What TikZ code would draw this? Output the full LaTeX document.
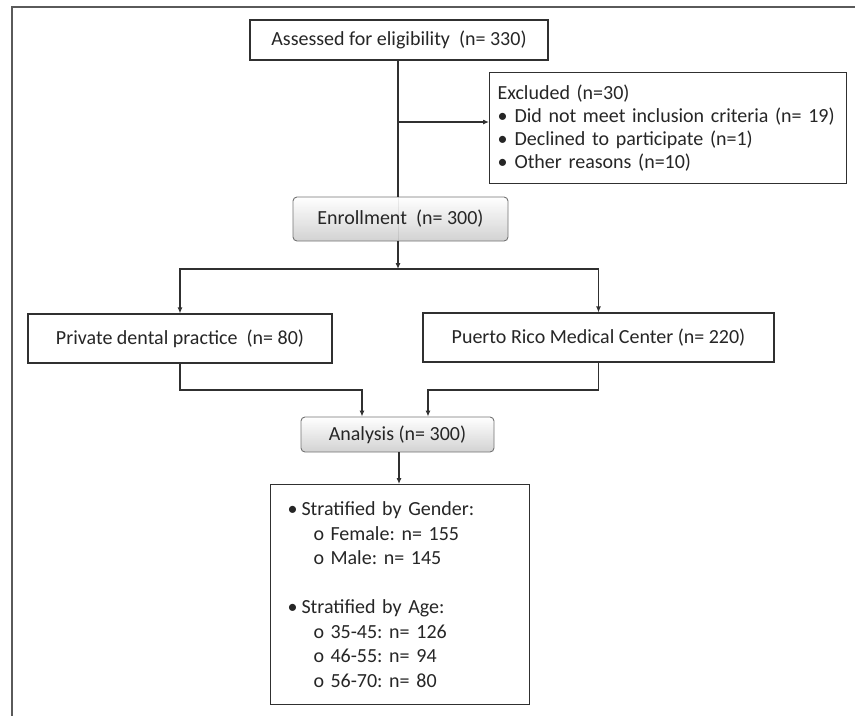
\documentclass[tikz,border=0pt]{standalone}
\usepackage{fontspec}
\setmainfont{Carlito}
\usetikzlibrary{arrows.meta,backgrounds}

\definecolor{ln}{HTML}{303030}
\definecolor{fr}{HTML}{5A5A5A}
\definecolor{txt}{HTML}{262626}

\begin{document}
\frenchspacing
\begin{tikzpicture}[x=1pt,y=-1pt,
  font=\fontsize{20}{23}\selectfont,
  box/.style={draw=ln, line width=1.1pt, fill=white, inner sep=0pt, text=txt},
  rbox/.style={draw=black!55, line width=0.9pt, rounded corners=4pt, top color=white, bottom color=black!20, inner sep=0pt, text=txt, fill opacity=0.88, text opacity=1},
  conn/.style={draw=ln, line width=1.1pt},
  arr/.style={conn, -{Latex[length=6pt,width=5pt]}},
]
\useasboundingbox (0,0) rectangle (855,716);
\draw[fr, line width=1.3pt] (855,7) -- (12,7) -- (12,716);

\node[box, minimum width=298pt, minimum height=40pt] (assess) at (399,40) {Assessed for eligibility\ \ (n= 330)};

\node[box, anchor=north west, minimum width=357pt, minimum height=111pt, inner xsep=8pt, text width=341pt, align=left] (excl) at (489,72)
  {Excluded (n=30)\\
   \mbox{\makebox[17pt][l]{•}Did not meet inclusion criteria (n= 19)}\\
   \makebox[17pt][l]{•}Declined to participate (n=1)\\
   \makebox[17pt][l]{•}Other reasons (n=10)};

\node[rbox, minimum width=215pt, minimum height=44pt] (enroll) at (400.5,219) {Enrollment\ \ (n= 300)};

\node[box, minimum width=304pt, minimum height=49pt] (priv) at (180,338.5) {Private dental practice\ \ (n= 80)};
\node[box, minimum width=351pt, minimum height=49pt] (puerto) at (598.5,337.5) {Puerto Rico\ Medical Center (n= 220)};

\node[rbox, minimum width=193pt, minimum height=35pt] (ana) at (397.5,434.5) {Analysis (n= 300)};

\node[box, anchor=north west, minimum width=259pt, minimum height=220pt, inner xsep=17pt, text width=225pt, align=left,
      font=\fontsize{20}{24.5}\selectfont] (strat) at (270,484)
  {\makebox[14pt][l]{•}Stratified by Gender:\\
   \hspace*{26pt}\makebox[17pt][l]{o}Female: n= 155\\
   \hspace*{26pt}\makebox[17pt][l]{o}Male: n= 145\\
   \mbox{}\\
   \makebox[14pt][l]{•}Stratified by Age:\\
   \hspace*{26pt}\makebox[17pt][l]{o}35-45: n= 126\\
   \hspace*{26pt}\makebox[17pt][l]{o}46-55: n= 94\\
   \hspace*{26pt}\makebox[17pt][l]{o}56-70: n= 80};

\coordinate (j1) at (398,122);
\coordinate (j2) at (398,269);
\coordinate (m1) at (362,390);
\coordinate (m2) at (428,390);

\begin{scope}[on background layer]
  \draw[conn, draw=black!55, line width=0.8pt] (assess.south -| j1) -- (enroll.south -| j1);
\end{scope}
\draw[conn] (assess.south -| j1) -- (enroll.north -| j1);
\draw[arr] (j1) -- (excl.west |- j1);
\draw[arr] (enroll.south -| j2) -- (j2);
\draw[arr] (j2) -| (priv.north);
\draw[arr] (j2) -| (puerto.north);
\draw[arr] (priv.south) |- (m1) -- (ana.north -| m1);
\draw[arr] (puerto.south) |- (m2) -- (ana.north -| m2);
\draw[arr] (ana.south -| 399,0) -- (strat.north -| 399,0);
\end{tikzpicture}
\end{document}
